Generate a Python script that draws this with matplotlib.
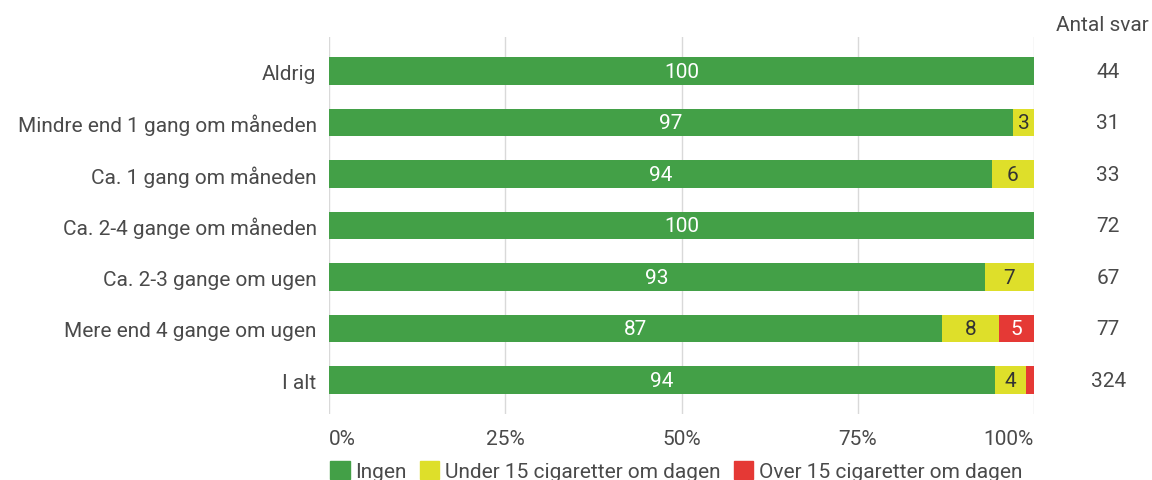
import matplotlib
matplotlib.use("Agg")
import matplotlib.pyplot as plt
import numpy as np

plt.rcParams['font.family'] = ['Roboto', 'DejaVu Sans']

categories = ["Aldrig", "Mindre end 1 gang om måneden", "Ca. 1 gang om måneden",
              "Ca. 2-4 gange om måneden", "Ca. 2-3 gange om ugen",
              "Mere end 4 gange om ugen", "I alt"]
ingen = [100, 97, 94, 100, 93, 87, 94.4]
under15 = [0, 3, 6, 0, 7, 8, 4.4]
over15 = [0, 0, 0, 0, 0, 5, 1.2]
antal_svar = [44, 31, 33, 72, 67, 77, 324]
series_names = ["Ingen", "Under 15 cigaretter om dagen", "Over 15 cigaretter om dagen"]
xticks = [0, 25, 50, 75, 100]
xtick_labels = ["0%", "25%", "50%", "75%", "100%"]

colors = ["#43A047", "#DEDF2A", "#E53935"]
text_colors = ["white", "#333333", "white"]
txt = "#4a4a4a"
fs = 15

fig = plt.figure(figsize=(11.52, 4.81), dpi=100)
ax = fig.add_axes([0.2856, 0.137, 0.612, 0.784])

y = np.arange(len(categories))
left = np.zeros(len(categories))
for vals, c, tc in zip([ingen, under15, over15], colors, text_colors):
    vals = np.array(vals, dtype=float)
    ax.barh(y, vals, left=left, height=0.53, color=c, zorder=3)
    for yi, (l, v) in enumerate(zip(left, vals)):
        if v >= 2.5:
            ax.text(l + v / 2, yi, f"{round(v)}", ha="center", va="center",
                    color=tc, fontsize=15, zorder=4)
    left += vals

ax.set_xlim(0, 100)
ax.set_ylim(len(categories) - 1 + 0.66, -0.66)
ax.set_yticks(y)
ax.set_yticklabels(categories, fontsize=fs, color=txt)
ax.set_xticks(xticks)
ax.set_xticklabels(xtick_labels, fontsize=fs, color=txt)
tl = ax.get_xticklabels()
tl[0].set_ha("left")
tl[-1].set_ha("right")
ax.tick_params(axis="y", length=0, pad=9)
ax.tick_params(axis="x", length=0, pad=11)
for s in ax.spines.values():
    s.set_visible(False)
ax.grid(axis="x", color="#D9D9D9", linewidth=1, zorder=0)
ax.axvline(0, color="#999999", linewidth=1.2, zorder=1)

# Antal svar column
for yi, n in enumerate(antal_svar):
    ax.text(1.105, yi, str(n), transform=ax.get_yaxis_transform(),
            ha="center", va="center", fontsize=fs, color=txt)
fig.text(0.957, 0.946, "Antal svar", ha="center", va="center", fontsize=fs, color=txt)

# Legend
handles = [plt.Rectangle((0, 0), 1, 1, color=c) for c in colors]
leg = fig.legend(handles, series_names, loc="center left", bbox_to_anchor=(0.279, 0.018),
                 ncol=3, frameon=False, fontsize=fs, handlelength=0.95, handleheight=0.95,
                 handletextpad=0.25, columnspacing=0.65, borderaxespad=0)
for t in leg.get_texts():
    t.set_color(txt)

fig.savefig("out.png", dpi=100)
